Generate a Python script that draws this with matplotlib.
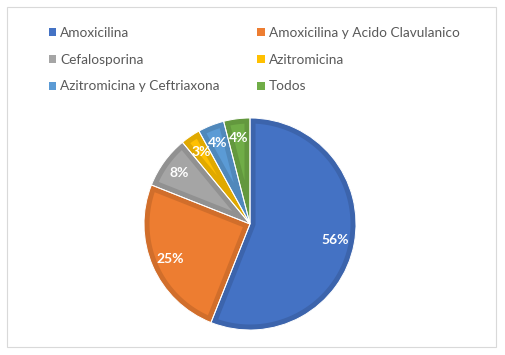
import matplotlib
matplotlib.use("Agg")
import numpy as np
import matplotlib.pyplot as plt
from matplotlib.patches import Rectangle, Polygon
import matplotlib.colors as mcolors

categories = ["Amoxicilina", "Amoxicilina y Acido Clavulanico", "Cefalosporina",
              "Azitromicina", "Azitromicina y Ceftriaxona", "Todos"]
values = [56, 25, 8, 3, 4, 4]
colors = ["#4472C4", "#ED7D31", "#A5A5A5", "#FFC000", "#5B9BD5", "#70AD47"]

plt.rcParams['font.family'] = ['Lato', 'DejaVu Sans']

W, H = 505, 355
fig = plt.figure(figsize=(W / 100, H / 100), dpi=100)
fig.patch.set_facecolor("white")

# chart border
fig.patches.append(Rectangle((7 / W, 1 - 347 / H), (496 - 7) / W, (347 - 7) / H,
                             transform=fig.transFigure, fill=False,
                             edgecolor="#D9D9D9", linewidth=0.8))

cx, cy, r = 250, 224, 106
ax = fig.add_axes([(cx - r) / W, (H - cy - r) / H, 2 * r / W, 2 * r / H])

def darker(c, f=0.88):
    rgb = mcolors.to_rgb(c)
    return tuple(v * f for v in rgb)

# outer wedges in the darker border colour
wedges, texts, autotexts = ax.pie(values, colors=[darker(c) for c in colors],
                                  startangle=90, counterclock=False,
                                  autopct=lambda p: f"{p:.0f}%", pctdistance=0.82,
                                  radius=1.0, wedgeprops=dict(linewidth=0),
                                  textprops=dict(color="white", fontsize=10, fontweight="bold"))

# inset fill of each wedge (uniform border width d)
d = 0.052
R2 = 1 - d
for w, c in zip(wedges, colors):
    t1, t2 = np.radians(w.theta1), np.radians(w.theta2)
    half = (t2 - t1) / 2
    da = np.arcsin(d / R2)
    a = np.linspace(t1 + da, t2 - da, 120)
    pts = list(zip(R2 * np.cos(a), R2 * np.sin(a)))
    tb = d / np.sin(half)
    mid = t1 + half
    pts.append((tb * np.cos(mid), tb * np.sin(mid)))
    ax.add_patch(Polygon(pts, closed=True, facecolor=c, edgecolor="none", zorder=2))

# thin white separators
ax.pie(values, colors=["none"] * len(values), startangle=90, counterclock=False,
       radius=1.0, wedgeprops=dict(linewidth=0.7, edgecolor="white", fill=False, zorder=3))
for t in autotexts:
    t.set_zorder(5)
ax.set_xlim(-1, 1)
ax.set_ylim(-1, 1)
ax.set_aspect("equal")
ax.axis("off")

order = [0, 2, 4, 1, 3, 5]
handles = [Rectangle((0, 0), 1, 1, facecolor=colors[i], edgecolor="none") for i in order]
fig.legend(handles, [categories[i] for i in order],
           ncol=2, loc="upper left", bbox_to_anchor=(39 / W, 1 - 17 / H),
           frameon=False, fontsize=9.8, labelcolor="#595959",
           handlelength=0.55, handleheight=0.55, handletextpad=0.3,
           columnspacing=2.75, labelspacing=1.1, borderpad=0.2)

fig.savefig("out.png", dpi=100)
